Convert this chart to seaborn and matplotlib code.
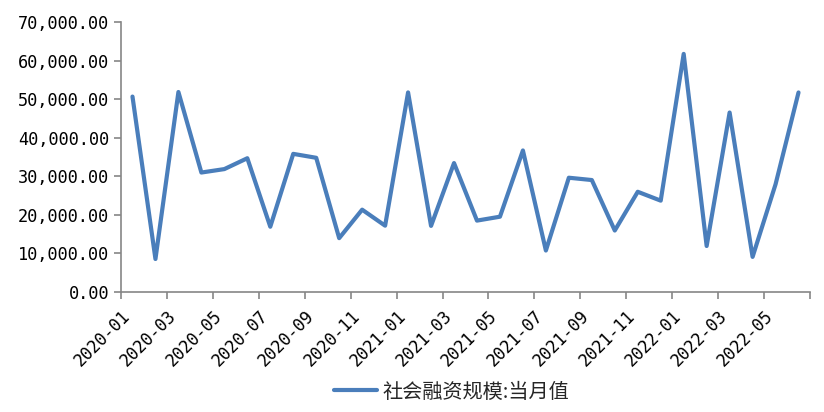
import numpy as np
import pandas as pd
import seaborn as sns
import matplotlib.pyplot as plt
from matplotlib.ticker import FuncFormatter, FixedLocator

# 社会融资规模当月值 (亿元), 2020-01 .. 2022-06
months = pd.period_range("2020-01", "2022-06", freq="M").strftime("%Y-%m").tolist()
values = [50668, 8554, 51848, 30975, 31866, 34681, 16921, 35814, 34792, 13963,
          21344, 17192, 51742, 17136, 33426, 18511, 19522, 36699, 10752, 29627,
          29026, 15943, 25983, 23682, 61726, 11928, 46531, 9102, 27921, 51733]
series_name = "社会融资规模:当月值"

sns.set_theme(style="ticks")
plt.rcParams["font.family"] = ["DejaVu Sans Mono", "Noto Sans CJK SC"]

df = pd.DataFrame({"idx": np.arange(len(months)), "value": values})

fig = plt.figure(figsize=(8.24, 4.12), dpi=100)
ax = fig.add_axes([121 / 824, 120 / 412, 689 / 824, 270 / 412])

sns.lineplot(data=df, x="idx", y="value", ax=ax, color="#4A7EBB",
             linewidth=3, label=series_name, legend=False)

# category axis: ticks sit on category boundaries, one label every 2 months
n = len(months)
ax.set_xlim(-0.5, n - 0.5)
bounds = np.arange(-0.5, n, 2)
ax.xaxis.set_major_locator(FixedLocator(bounds))
ax.set_xticklabels([months[int(b + 0.5)] if b + 0.5 < n else "" for b in bounds],
                   rotation=45, ha="right", va="top", rotation_mode="anchor")

ax.set_ylim(0, 70000)
ax.set_yticks(np.arange(0, 70001, 10000))
ax.yaxis.set_major_formatter(FuncFormatter(lambda v, _: f"{v:,.2f}"))

ax.set_xlabel("")
ax.set_ylabel("")
for side in ["top", "right"]:
    ax.spines[side].set_visible(False)
for side in ["left", "bottom"]:
    ax.spines[side].set_color("#868686")
    ax.spines[side].set_linewidth(1.2)
ax.tick_params(axis="both", colors="#868686", length=5, width=1.2,
               labelcolor="black", labelsize=12.2)
ax.tick_params(axis="x", pad=6)

handles, labels = ax.get_legend_handles_labels()
fig.legend(handles, labels, loc="center", bbox_to_anchor=(452 / 824, 20 / 412),
           frameon=False, handlelength=2.1, handletextpad=0.3,
           prop={"family": ["Noto Sans CJK SC", "DejaVu Sans"], "size": 14.5})

fig.savefig("out.png", dpi=100)
plt.close(fig)
